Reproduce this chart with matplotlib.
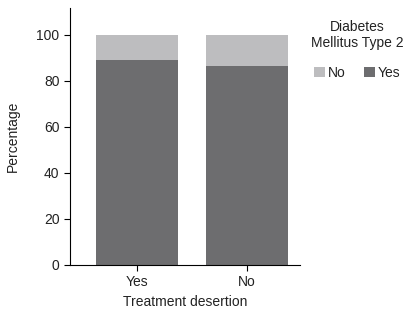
import matplotlib
matplotlib.use('Agg')
import matplotlib.pyplot as plt

plt.rcParams['font.family'] = ['Liberation Sans', 'DejaVu Sans']
plt.rcParams['text.color'] = '#222222'
plt.rcParams['axes.labelcolor'] = '#222222'
plt.rcParams['xtick.labelcolor'] = '#222222'
plt.rcParams['ytick.labelcolor'] = '#222222'

# data
categories = ['Yes', 'No']
diab_yes = [89.0, 86.5]
diab_no = [11.0, 13.5]

dark = '#6d6d6f'
light = '#bdbdbf'

fig = plt.figure(figsize=(4.11, 3.16), dpi=100)
ax = fig.add_axes([70/411, 51/316, 230/411, 257/316])

x = range(len(categories))
ax.bar(x, diab_yes, width=0.75, color=dark, label='Yes')
ax.bar(x, diab_no, width=0.75, bottom=diab_yes, color=light, label='No')

ax.set_xlim(-0.61, 1.48)
ax.set_ylim(0, 111.7)
ax.set_xticks(list(x))
ax.set_xticklabels(categories)
ax.set_yticks([0, 20, 40, 60, 80, 100])
ax.tick_params(labelsize=10, length=4, color='black')
ax.spines['top'].set_visible(False)
ax.spines['right'].set_visible(False)
ax.set_xlabel('Treatment desertion', fontsize=10, labelpad=4)
ax.set_ylabel('Percentage', fontsize=10, labelpad=12)

handles, labels = ax.get_legend_handles_labels()
leg = fig.legend(handles[::-1], labels[::-1], title='Diabetes\nMellitus Type 2',
                 loc='center', bbox_to_anchor=(357/411, 1 - 50/316), ncol=2,
                 frameon=False, fontsize=10, title_fontsize=10,
                 handlelength=0.8, handleheight=0.8, handletextpad=0.2,
                 columnspacing=1.3, labelspacing=1.1)
leg.get_title().set_multialignment('center')

fig.savefig('out.png', dpi=100)
